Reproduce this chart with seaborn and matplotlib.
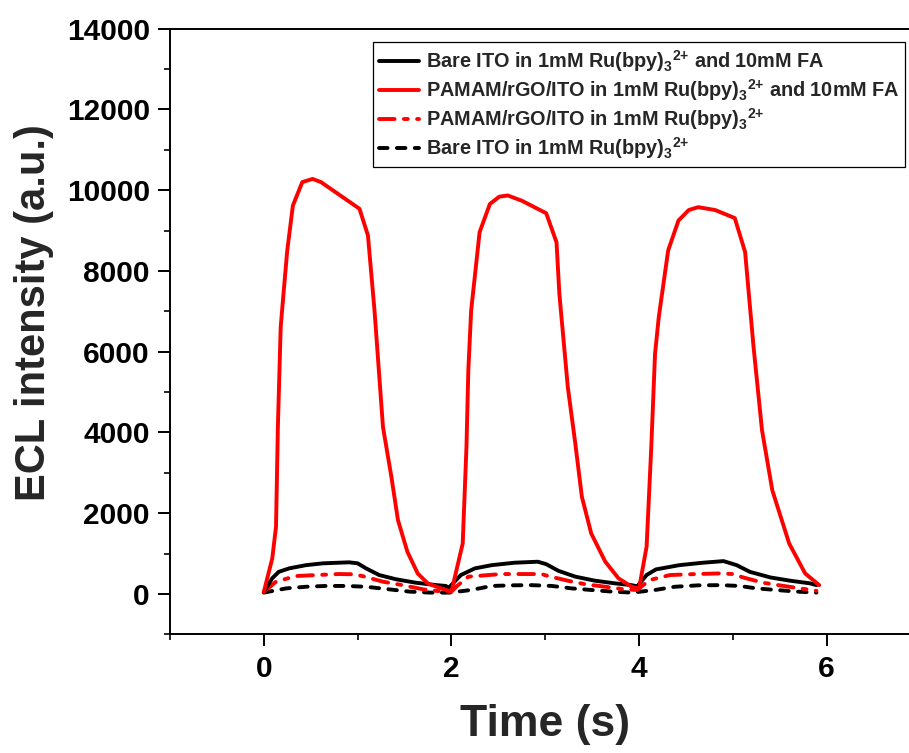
import matplotlib
matplotlib.use("Agg")
import matplotlib.pyplot as plt
import seaborn as sns

# ECL transients over three potential-step cycles
t_bare_fa = [0.00, 0.09, 0.16, 0.27, 0.45, 0.63, 0.91, 1.00, 1.09, 1.23, 1.41, 1.62, 1.84, 1.94, 1.97,
             2.10, 2.25, 2.43, 2.67, 2.92, 3.01, 3.14, 3.32, 3.53, 3.74, 3.92, 3.98,
             4.08, 4.18, 4.43, 4.68, 4.90, 5.04, 5.18, 5.40, 5.61, 5.82, 5.89]
ecl_bare_fa = [50, 390, 550, 635, 715, 760, 785, 760, 635, 470, 365, 280, 220, 200, 150,
               470, 635, 715, 775, 800, 740, 575, 430, 330, 265, 220, 190,
               470, 610, 715, 775, 815, 715, 550, 410, 330, 265, 220]

t_pamam_fa = [0.00, 0.09, 0.13, 0.15, 0.18, 0.21, 0.25, 0.31, 0.41, 0.52, 0.61, 1.02, 1.11, 1.18, 1.27,
              1.36, 1.43, 1.53, 1.64, 1.75, 1.89, 2.00,
              2.12, 2.16, 2.18, 2.21, 2.30, 2.41, 2.51, 2.60, 2.75, 3.01, 3.12, 3.15, 3.24,
              3.32, 3.39, 3.49, 3.64, 3.78, 3.92, 4.00,
              4.08, 4.13, 4.17, 4.21, 4.31, 4.42, 4.53, 4.63, 4.81, 5.02, 5.13, 5.22, 5.31,
              5.42, 5.60, 5.77, 5.92]
ecl_pamam_fa = [50, 880, 1660, 4140, 6610, 7440, 8510, 9620, 10200, 10280, 10200, 9540, 8880, 7020, 4140,
                2900, 1830, 1050, 510, 260, 140, 60,
                1250, 3640, 5540, 7020, 8960, 9660, 9840, 9870, 9740, 9430, 8710, 7440, 5130,
                3730, 2410, 1500, 800, 390, 180, 140,
                1170, 3640, 5950, 6860, 8510, 9250, 9510, 9580, 9510, 9310, 8470, 6120, 4060,
                2570, 1250, 510, 220]

t_pamam = [0.00, 0.13, 0.34, 0.56, 0.80, 0.95, 1.05, 1.27, 1.48, 1.70, 1.91, 2.00,
           2.06, 2.18, 2.53, 2.71, 2.96, 3.03, 3.24, 3.42, 3.64, 3.85, 3.98,
           4.11, 4.33, 4.61, 4.86, 5.00, 5.11, 5.32, 5.54, 5.79, 5.89]
ecl_pamam = [50, 305, 445, 470, 495, 490, 445, 305, 220, 115, 60, 60,
             200, 430, 495, 495, 495, 445, 330, 245, 180, 115, 100,
             345, 470, 495, 510, 495, 410, 280, 200, 115, 80]

t_bare = [0.00, 0.24, 0.45, 0.66, 0.88, 1.09, 1.34, 1.55, 1.77, 1.98,
          2.21, 2.43, 2.64, 2.85, 3.07, 3.28, 3.49, 3.71, 3.92, 4.00,
          4.17, 4.38, 4.63, 4.87, 5.07, 5.25, 5.46, 5.68, 5.89]
ecl_bare = [35, 140, 180, 200, 200, 180, 115, 60, 35, 35,
            100, 200, 215, 220, 200, 140, 100, 60, 35, 55,
            100, 180, 215, 220, 200, 140, 100, 60, 35]

labels = [
    r"Bare ITO in 1mM Ru(bpy)$_3$$^{2{+}}$ and 10mM FA",
    r"PAMAM/rGO/ITO in 1mM Ru(bpy)$_3$$^{2{+}}$ and 10mM FA",
    r"PAMAM/rGO/ITO in 1mM Ru(bpy)$_3$$^{2{+}}$",
    r"Bare ITO in 1mM Ru(bpy)$_3$$^{2{+}}$",
]

sns.set_style("ticks")
plt.rcParams["font.family"] = ["Liberation Sans", "DejaVu Sans"]
plt.rcParams["font.weight"] = "bold"
plt.rcParams["mathtext.fontset"] = "custom"
plt.rcParams["mathtext.rm"] = "Liberation Sans:bold"
plt.rcParams["mathtext.it"] = "Liberation Sans:bold"
plt.rcParams["mathtext.bf"] = "Liberation Sans:bold"
plt.rcParams["mathtext.default"] = "rm"

fig = plt.figure(figsize=(9.09, 7.53), dpi=100)
ax = fig.add_axes([0.1870, 0.1575, 0.8257, 0.8044])

lw = 2.8
sns.lineplot(x=t_bare, y=ecl_bare, ax=ax, color="black", lw=lw, sort=False, estimator=None)
l_bare = ax.lines[-1]
l_bare.set_dashes((2.2, 2.4))
l_bare.set_dash_capstyle("round")

sns.lineplot(x=t_pamam, y=ecl_pamam, ax=ax, color="red", lw=lw, sort=False, estimator=None)
l_pamam = ax.lines[-1]
l_pamam.set_dashes((4.0, 2.4, 1.0, 2.4))
l_pamam.set_dash_capstyle("round")

sns.lineplot(x=t_bare_fa, y=ecl_bare_fa, ax=ax, color="black", lw=lw, sort=False, estimator=None)
l_bare_fa = ax.lines[-1]

sns.lineplot(x=t_pamam_fa, y=ecl_pamam_fa, ax=ax, color="red", lw=lw, sort=False, estimator=None)
l_pamam_fa = ax.lines[-1]

ax.set_xlim(-1, 7)
ax.set_ylim(-1000, 14000)
ax.set_xticks([0, 2, 4, 6])
ax.set_xticks([-1, 1, 3, 5], minor=True)
ax.set_yticks(range(0, 14001, 2000))
ax.set_yticks(range(-1000, 14000, 2000), minor=True)

ax.tick_params(axis="both", which="major", direction="out", length=8.5, width=1.4,
               labelsize=21.5, pad=6, colors="black")
ax.tick_params(axis="both", which="minor", direction="out", length=4, width=1.4)
for lab in ax.get_xticklabels() + ax.get_yticklabels():
    lab.set_fontweight("bold")

for side in ["left", "bottom", "top", "right"]:
    ax.spines[side].set_linewidth(1.4)
    ax.spines[side].set_color("black")

ax.set_xlabel("Time (s)", fontsize=32, fontweight="bold")
ax.set_ylabel("ECL intensity (a.u.)", fontsize=30, fontweight="bold")
ax.xaxis.set_label_coords(0.5, -0.115)
ax.yaxis.set_label_coords(-0.155, 0.531)

leg = ax.legend([l_bare_fa, l_pamam_fa, l_pamam, l_bare], labels,
                loc="upper left", bbox_to_anchor=(373 / 909, 1 - 42 / 753),
                bbox_transform=fig.transFigure, fontsize=14.3, frameon=True,
                fancybox=False, framealpha=1, edgecolor="black",
                handlelength=2.0, handletextpad=0.35, labelspacing=0.16,
                borderpad=0.3, borderaxespad=0)
leg.get_frame().set_linewidth(0.9)
for txt in leg.get_texts():
    txt.set_fontweight("bold")

fig.savefig("out.png", dpi=100, facecolor="white")
